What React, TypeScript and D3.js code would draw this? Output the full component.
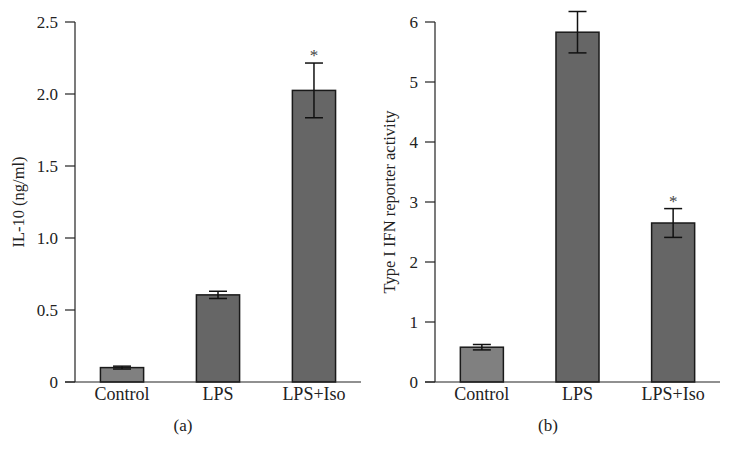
import React from 'react';
import * as d3 from 'd3';

// bar chart data
const categories = ['Control', 'LPS', 'LPS+Iso'];

const il10Means = [0.1, 0.605, 2.025];
const il10Errors = [0.01, 0.025, 0.19];
const il10Ticks = [0, 0.5, 1.0, 1.5, 2.0, 2.5];
const il10TickLabels = ['0', '0.5', '1.0', '1.5', '2.0', '2.5'];
const il10Stars = [false, false, true];

const ifnMeans = [0.58, 5.83, 2.65];
const ifnErrors = [0.045, 0.345, 0.24];
const ifnTicks = [0, 1, 2, 3, 4, 5, 6];
const ifnTickLabels = ['0', '1', '2', '3', '4', '5', '6'];
const ifnStars = [false, false, true];

const barColors = ['#808080', '#666666', '#666666'];
const FONT = '"Liberation Serif", "Times New Roman", serif';

type PanelProps = {
  axisX: number;
  xEnd: number;
  yTop: number;
  yBottom: number;
  maxY: number;
  means: number[];
  errors: number[];
  ticks: number[];
  tickLabels: string[];
  stars: boolean[];
  yLabel: string;
  yLabelX: number;
  panelLabel: string;
  panelLabelX: number;
};

function Panel(p: PanelProps) {
  const x = d3.scaleBand<string>()
    .domain(categories)
    .range([p.axisX, p.xEnd])
    .paddingInner(0.55)
    .paddingOuter(0.265);
  const y = d3.scaleLinear().domain([0, p.maxY]).range([p.yBottom, p.yTop]);
  const bw = x.bandwidth();
  const cap = 9;
  const midY = (p.yTop + p.yBottom) / 2;

  return (
    <g fontFamily={FONT} fill="#222">
      {/* bars */}
      {categories.map((c, i) => (
        <rect key={c} x={x(c)} y={y(p.means[i])} width={bw}
          height={y(0) - y(p.means[i])}
          fill={barColors[i]} stroke="#1a1a1a" strokeWidth={1.5} />
      ))}
      {/* error bars */}
      {categories.map((c, i) => {
        const cx = (x(c) as number) + bw / 2;
        const hi = y(p.means[i] + p.errors[i]);
        const lo = y(p.means[i] - p.errors[i]);
        return (
          <g key={c} stroke="#111" strokeWidth={1.5}>
            <line x1={cx} x2={cx} y1={hi} y2={lo} />
            <line x1={cx - cap} x2={cx + cap} y1={hi} y2={hi} />
            <line x1={cx - cap} x2={cx + cap} y1={lo} y2={lo} />
          </g>
        );
      })}
      {categories.map((c, i) => p.stars[i] ? (
        <text key={c} x={(x(c) as number) + bw / 2}
          y={y(p.means[i] + p.errors[i]) - 2}
          textAnchor="middle" fontSize={17} fill="#444">*</text>
      ) : null)}
      {/* axes */}
      <line x1={p.axisX} x2={p.axisX} y1={p.yTop} y2={p.yBottom} stroke="#222" strokeWidth={1.2} />
      <line x1={p.axisX - 10} x2={p.xEnd} y1={p.yBottom} y2={p.yBottom} stroke="#222" strokeWidth={1.2} />
      {p.ticks.map((t, i) => (
        <g key={t}>
          <line x1={p.axisX - 10} x2={p.axisX} y1={y(t)} y2={y(t)} stroke="#222" strokeWidth={1.2} />
          <text x={p.axisX - 17} y={y(t)} dy="0.35em" textAnchor="end" fontSize={17}>{p.tickLabels[i]}</text>
        </g>
      ))}
      {categories.map(c => (
        <text key={c} x={(x(c) as number) + bw / 2} y={p.yBottom + 18}
          textAnchor="middle" fontSize={18}>{c}</text>
      ))}
      <text transform={`translate(${p.yLabelX},${midY}) rotate(-90)`}
        textAnchor="middle" fontSize={16.5}>{p.yLabel}</text>
      <text x={p.panelLabelX} y={p.yBottom + 49} textAnchor="middle" fontSize={17}>{p.panelLabel}</text>
    </g>
  );
}

export default function App() {
  return (
    <svg width={731} height={460} style={{ position: 'absolute', left: 0, top: 0, background: '#fff' }}>
      <Panel axisX={75} xEnd={361} yTop={22} yBottom={382} maxY={2.5}
        means={il10Means} errors={il10Errors} ticks={il10Ticks} tickLabels={il10TickLabels}
        stars={il10Stars} yLabel="IL-10 (ng/ml)" yLabelX={24}
        panelLabel="(a)" panelLabelX={183} />
      <Panel axisX={435} xEnd={720} yTop={22} yBottom={382} maxY={6}
        means={ifnMeans} errors={ifnErrors} ticks={ifnTicks} tickLabels={ifnTickLabels}
        stars={ifnStars} yLabel="Type I IFN reporter activity" yLabelX={395}
        panelLabel="(b)" panelLabelX={548} />
    </svg>
  );
}
